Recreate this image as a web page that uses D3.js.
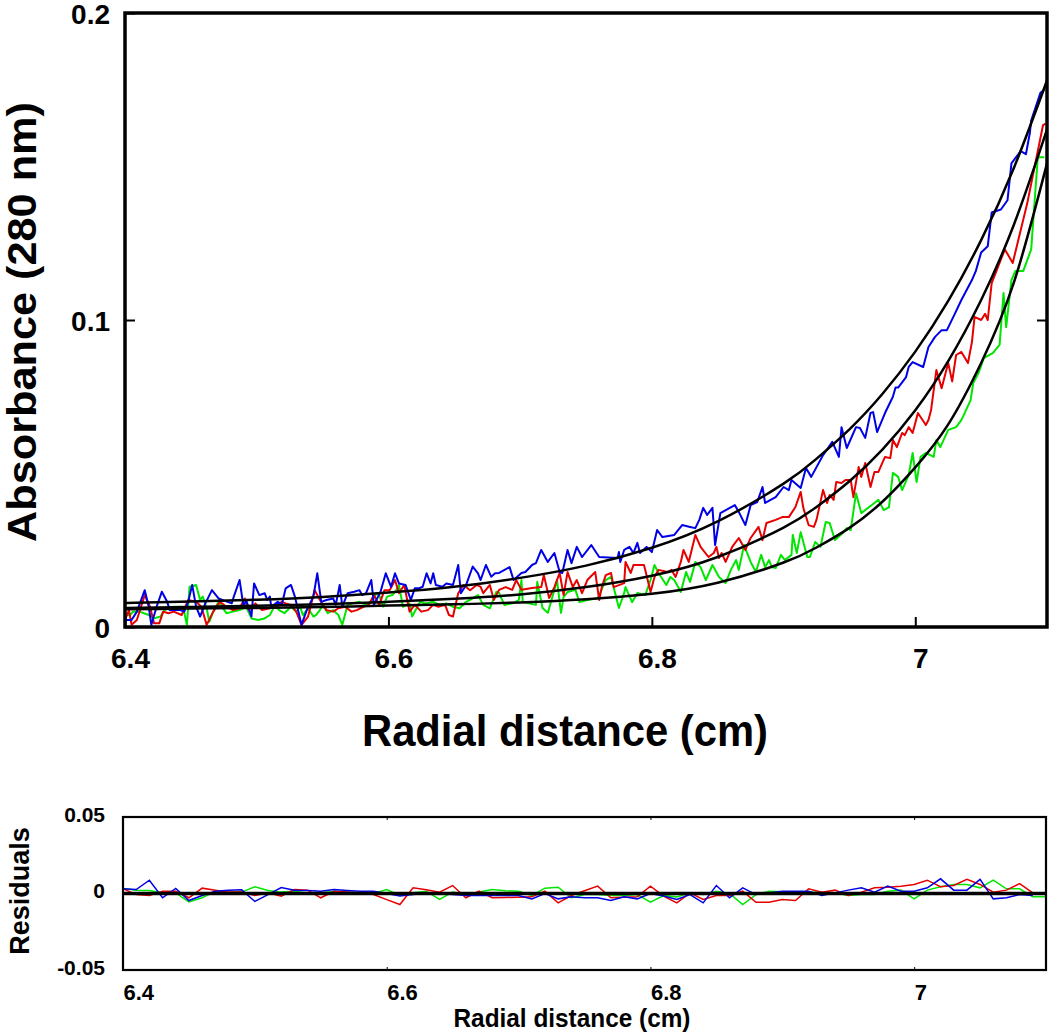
<!DOCTYPE html>
<html><head><meta charset="utf-8">
<script src="https://cdn.jsdelivr.net/npm/d3@7"></script>
<style>
body{margin:0;background:#fff}
svg{display:block}
text{font-family:"Liberation Sans",Arial,Helvetica,sans-serif;font-weight:bold;fill:#000}
</style>
</head><body>
<svg id="chart" width="1050" height="1034"></svg>
<script>
// ---------- DATA ----------
const xTicks = [6.4, 6.6, 6.8, 7.0];
const xTickLabels = ["6.4", "6.6", "6.8", "7"];
const yTicks = [0, 0.1, 0.2];
const yTickLabels = ["0", "0.1", "0.2"];
const resYTicks = [-0.05, 0, 0.05];
const resYTickLabels = ["-0.05", "0", "0.05"];

const blueData = [[6.400,0.0023],[6.405,0.0023],[6.409,0.0050],[6.415,0.0120],[6.418,0.0066],[6.420,0.0007],[6.424,0.0066],[6.428,0.0115],[6.432,0.0082],[6.434,0.0055],[6.442,0.0055],[6.445,0.0050],[6.448,0.0082],[6.451,0.0137],[6.454,0.0066],[6.457,0.0034],[6.461,0.0077],[6.466,0.0120],[6.471,0.0093],[6.474,0.0088],[6.478,0.0082],[6.481,0.0077],[6.483,0.0104],[6.487,0.0153],[6.490,0.0066],[6.492,0.0088],[6.496,0.0034],[6.498,0.0142],[6.502,0.0104],[6.506,0.0110],[6.508,0.0088],[6.510,0.0099],[6.511,0.0066],[6.516,0.0082],[6.519,0.0072],[6.522,0.0126],[6.526,0.0137],[6.529,0.0099],[6.534,0.0007],[6.538,0.0055],[6.543,0.0099],[6.546,0.0175],[6.549,0.0082],[6.553,0.0088],[6.558,0.0093],[6.560,0.0072],[6.563,0.0137],[6.565,0.0066],[6.569,0.0110],[6.574,0.0115],[6.578,0.0120],[6.580,0.0104],[6.583,0.0110],[6.587,0.0153],[6.589,0.0072],[6.594,0.0115],[6.598,0.0175],[6.602,0.0131],[6.605,0.0175],[6.608,0.0142],[6.613,0.0137],[6.617,0.0088],[6.620,0.0126],[6.623,0.0126],[6.626,0.0131],[6.629,0.0175],[6.632,0.0142],[6.634,0.0175],[6.636,0.0137],[6.641,0.0131],[6.644,0.0142],[6.649,0.0137],[6.653,0.0202],[6.655,0.0110],[6.659,0.0137],[6.664,0.0197],[6.668,0.0175],[6.670,0.0153],[6.674,0.0202],[6.678,0.0164],[6.681,0.0175],[6.684,0.0176],[6.692,0.0195],[6.695,0.0153],[6.701,0.0176],[6.704,0.0179],[6.709,0.0202],[6.712,0.0208],[6.716,0.0251],[6.721,0.0212],[6.726,0.0241],[6.730,0.0179],[6.732,0.0176],[6.736,0.0251],[6.739,0.0208],[6.743,0.0261],[6.747,0.0228],[6.754,0.0267],[6.760,0.0228],[6.774,0.0225],[6.775,0.0244],[6.776,0.0212],[6.779,0.0251],[6.783,0.0261],[6.786,0.0241],[6.789,0.0274],[6.791,0.0241],[6.796,0.0261],[6.800,0.0244],[6.804,0.0316],[6.808,0.0293],[6.817,0.0300],[6.823,0.0332],[6.829,0.0326],[6.833,0.0322],[6.836,0.0349],[6.839,0.0388],[6.842,0.0365],[6.846,0.0388],[6.848,0.0267],[6.852,0.0371],[6.863,0.0397],[6.866,0.0375],[6.871,0.0332],[6.875,0.0397],[6.880,0.0407],[6.884,0.0456],[6.886,0.0404],[6.894,0.0423],[6.900,0.0456],[6.904,0.0446],[6.906,0.0479],[6.913,0.0453],[6.917,0.0518],[6.921,0.0489],[6.930,0.0560],[6.937,0.0603],[6.942,0.0554],[6.944,0.0651],[6.948,0.0583],[6.955,0.0651],[6.958,0.0648],[6.962,0.0616],[6.966,0.0697],[6.968,0.0700],[6.971,0.0635],[6.977,0.0697],[6.983,0.0750],[6.985,0.0780],[6.987,0.0780],[6.993,0.0814],[6.995,0.0847],[6.998,0.0863],[7.006,0.0847],[7.010,0.0912],[7.015,0.0945],[7.020,0.0967],[7.024,0.0967],[7.030,0.1020],[7.035,0.1065],[7.043,0.1130],[7.046,0.1160],[7.050,0.1220],[7.055,0.1240],[7.058,0.1350],[7.065,0.1360],[7.070,0.1390],[7.073,0.1510],[7.080,0.1550],[7.084,0.1540],[7.087,0.1610],[7.088,0.1650],[7.095,0.1740],[7.098,0.1750]];

const redData = [[6.400,0.0023],[6.403,0.0055],[6.405,0.0007],[6.409,0.0023],[6.415,0.0104],[6.419,0.0066],[6.422,0.0012],[6.426,0.0012],[6.429,0.0050],[6.433,0.0045],[6.437,0.0050],[6.443,0.0039],[6.448,0.0088],[6.454,0.0082],[6.458,0.0066],[6.462,0.0007],[6.467,0.0050],[6.472,0.0082],[6.477,0.0066],[6.482,0.0055],[6.487,0.0061],[6.491,0.0093],[6.494,0.0055],[6.499,0.0077],[6.504,0.0055],[6.510,0.0061],[6.515,0.0066],[6.519,0.0082],[6.522,0.0077],[6.526,0.0072],[6.530,0.0050],[6.534,0.0007],[6.539,0.0034],[6.544,0.0120],[6.548,0.0088],[6.553,0.0055],[6.558,0.0050],[6.562,0.0061],[6.567,0.0066],[6.572,0.0050],[6.576,0.0055],[6.581,0.0066],[6.585,0.0072],[6.589,0.0104],[6.593,0.0072],[6.597,0.0120],[6.601,0.0120],[6.605,0.0153],[6.608,0.0110],[6.612,0.0137],[6.616,0.0050],[6.620,0.0072],[6.625,0.0050],[6.630,0.0055],[6.634,0.0072],[6.638,0.0066],[6.643,0.0072],[6.646,0.0039],[6.649,0.0034],[6.653,0.0110],[6.657,0.0137],[6.662,0.0120],[6.667,0.0137],[6.670,0.0131],[6.672,0.0110],[6.677,0.0137],[6.680,0.0088],[6.684,0.0121],[6.689,0.0130],[6.694,0.0121],[6.697,0.0153],[6.701,0.0121],[6.709,0.0127],[6.716,0.0130],[6.718,0.0169],[6.722,0.0094],[6.726,0.0130],[6.730,0.0176],[6.733,0.0104],[6.736,0.0179],[6.740,0.0130],[6.743,0.0153],[6.747,0.0110],[6.751,0.0153],[6.757,0.0179],[6.760,0.0088],[6.762,0.0130],[6.765,0.0169],[6.769,0.0176],[6.771,0.0130],[6.779,0.0143],[6.780,0.0212],[6.784,0.0176],[6.786,0.0202],[6.794,0.0202],[6.795,0.0186],[6.799,0.0114],[6.802,0.0163],[6.805,0.0186],[6.812,0.0179],[6.815,0.0186],[6.818,0.0163],[6.822,0.0212],[6.824,0.0251],[6.828,0.0212],[6.833,0.0300],[6.837,0.0261],[6.843,0.0228],[6.847,0.0241],[6.849,0.0261],[6.851,0.0225],[6.853,0.0241],[6.856,0.0212],[6.861,0.0261],[6.866,0.0290],[6.871,0.0251],[6.875,0.0290],[6.881,0.0326],[6.884,0.0283],[6.887,0.0339],[6.894,0.0349],[6.899,0.0358],[6.904,0.0358],[6.909,0.0391],[6.913,0.0440],[6.915,0.0388],[6.919,0.0332],[6.923,0.0326],[6.925,0.0349],[6.930,0.0446],[6.933,0.0404],[6.935,0.0430],[6.938,0.0414],[6.940,0.0472],[6.944,0.0469],[6.947,0.0479],[6.951,0.0479],[6.953,0.0423],[6.957,0.0521],[6.959,0.0489],[6.962,0.0534],[6.966,0.0456],[6.969,0.0505],[6.972,0.0505],[6.977,0.0554],[6.981,0.0550],[6.983,0.0609],[6.986,0.0586],[6.990,0.0632],[6.992,0.0625],[6.995,0.0651],[6.998,0.0632],[7.002,0.0697],[7.008,0.0658],[7.010,0.0674],[7.012,0.0707],[7.016,0.0837],[7.020,0.0778],[7.023,0.0827],[7.025,0.0860],[7.028,0.0800],[7.031,0.0886],[7.035,0.0896],[7.040,0.0860],[7.043,0.0928],[7.045,0.1010],[7.050,0.1000],[7.053,0.1020],[7.055,0.1000],[7.058,0.1120],[7.068,0.1230],[7.074,0.1186],[7.085,0.1380],[7.097,0.1635],[7.099,0.1640]];

const greenData = [[6.400,0.0039],[6.404,0.0039],[6.406,0.0050],[6.411,0.0050],[6.418,0.0039],[6.422,0.0028],[6.427,0.0034],[6.429,0.0050],[6.432,0.0061],[6.437,0.0066],[6.444,0.0066],[6.447,0.0007],[6.449,0.0131],[6.454,0.0137],[6.457,0.0088],[6.459,0.0099],[6.462,0.0061],[6.464,0.0017],[6.467,0.0050],[6.471,0.0082],[6.477,0.0045],[6.482,0.0050],[6.487,0.0055],[6.492,0.0066],[6.496,0.0028],[6.501,0.0023],[6.506,0.0028],[6.510,0.0039],[6.514,0.0072],[6.517,0.0055],[6.521,0.0045],[6.526,0.0066],[6.530,0.0050],[6.533,0.0066],[6.535,0.0039],[6.539,0.0061],[6.543,0.0034],[6.545,0.0039],[6.548,0.0055],[6.550,0.0072],[6.554,0.0045],[6.558,0.0055],[6.562,0.0039],[6.565,0.0007],[6.569,0.0072],[6.573,0.0077],[6.578,0.0082],[6.583,0.0072],[6.587,0.0082],[6.591,0.0110],[6.593,0.0104],[6.596,0.0066],[6.599,0.0099],[6.603,0.0104],[6.606,0.0120],[6.608,0.0137],[6.611,0.0066],[6.616,0.0077],[6.618,0.0034],[6.624,0.0082],[6.628,0.0077],[6.634,0.0082],[6.639,0.0072],[6.644,0.0077],[6.649,0.0066],[6.654,0.0061],[6.659,0.0082],[6.664,0.0093],[6.668,0.0104],[6.672,0.0072],[6.677,0.0061],[6.682,0.0115],[6.684,0.0111],[6.688,0.0072],[6.695,0.0078],[6.699,0.0088],[6.701,0.0153],[6.702,0.0081],[6.712,0.0072],[6.713,0.0147],[6.717,0.0062],[6.721,0.0046],[6.726,0.0121],[6.728,0.0153],[6.731,0.0046],[6.733,0.0098],[6.736,0.0114],[6.742,0.0121],[6.745,0.0081],[6.751,0.0088],[6.759,0.0094],[6.765,0.0153],[6.769,0.0163],[6.775,0.0062],[6.779,0.0111],[6.780,0.0130],[6.785,0.0081],[6.789,0.0111],[6.795,0.0104],[6.799,0.0153],[6.802,0.0202],[6.805,0.0176],[6.811,0.0137],[6.814,0.0163],[6.817,0.0153],[6.822,0.0114],[6.826,0.0179],[6.829,0.0147],[6.833,0.0212],[6.837,0.0195],[6.841,0.0153],[6.846,0.0202],[6.851,0.0163],[6.856,0.0143],[6.860,0.0186],[6.864,0.0218],[6.866,0.0186],[6.870,0.0267],[6.875,0.0212],[6.879,0.0179],[6.883,0.0235],[6.886,0.0195],[6.889,0.0218],[6.891,0.0195],[6.894,0.0192],[6.898,0.0235],[6.901,0.0218],[6.906,0.0235],[6.907,0.0300],[6.910,0.0241],[6.913,0.0309],[6.918,0.0228],[6.920,0.0228],[6.924,0.0277],[6.928,0.0261],[6.932,0.0342],[6.935,0.0339],[6.939,0.0283],[6.945,0.0306],[6.948,0.0322],[6.951,0.0316],[6.955,0.0436],[6.959,0.0371],[6.962,0.0381],[6.969,0.0404],[6.972,0.0414],[6.976,0.0381],[6.980,0.0390],[6.983,0.0502],[6.987,0.0489],[6.990,0.0446],[6.995,0.0495],[6.998,0.0567],[7.001,0.0472],[7.004,0.0554],[7.008,0.0567],[7.014,0.0554],[7.016,0.0609],[7.019,0.0586],[7.025,0.0642],[7.031,0.0651],[7.035,0.0674],[7.042,0.0739],[7.044,0.0795],[7.048,0.0827],[7.052,0.0876],[7.059,0.0893],[7.064,0.0919],[7.067,0.1088],[7.069,0.0977],[7.073,0.1130],[7.076,0.1160],[7.082,0.1160],[7.088,0.1230],[7.093,0.1530],[7.098,0.1530]];

// fitted curves
const fitX = [6.40,6.45,6.50,6.55,6.60,6.65,6.70,6.75,6.80,6.85,6.90,6.925,6.95,6.975,7.00,7.025,7.05,7.075,7.10];
const fitBlue  = [0.0078,0.0083,0.0089,0.0098,0.0112,0.0131,0.0160,0.0200,0.0258,0.0344,0.0467,0.0548,0.0644,0.0759,0.0897,0.1062,0.1260,0.1497,0.1780];
const fitRed   = [0.0062,0.0065,0.0069,0.0074,0.0082,0.0092,0.0106,0.0130,0.0167,0.0228,0.0324,0.0391,0.0475,0.0578,0.0706,0.0866,0.1065,0.1312,0.1620];
const fitGreen = [0.0058,0.0060,0.0062,0.0065,0.0070,0.0074,0.0080,0.0090,0.0108,0.0144,0.0210,0.0259,0.0323,0.0408,0.0520,0.0660,0.0860,0.1124,0.1510];

// residuals
const resX = [6.40,6.41,6.42,6.43,6.44,6.45,6.46,6.47,6.48,6.49,6.50,6.51,6.52,6.53,6.54,6.55,6.56,6.57,6.58,6.59,6.60,6.61,6.62,6.63,6.64,6.65,6.66,6.67,6.68,6.69,6.70,6.71,6.72,6.73,6.74,6.75,6.76,6.77,6.78,6.79,6.80,6.81,6.82,6.83,6.84,6.85,6.86,6.87,6.88,6.89,6.90,6.91,6.92,6.93,6.94,6.95,6.96,6.97,6.98,6.99,7.00,7.01,7.02,7.03,7.04,7.05,7.06,7.07,7.08,7.09,7.10];
const resBlue = [0.0031,0.0026,0.0087,-0.0028,0.0033,-0.0046,-0.0013,0.0015,0.0022,0.0024,-0.0052,-0.0007,0.0039,0.0022,0.0020,0.0015,0.0026,0.0020,0.0015,0.0015,0.0000,-0.0017,-0.0007,0.0000,0.0000,-0.0007,-0.0013,-0.0013,-0.0013,-0.0013,-0.0013,-0.0035,0.0000,-0.0035,-0.0022,-0.0028,-0.0028,-0.0046,-0.0022,-0.0035,0.0000,-0.0017,-0.0039,-0.0007,-0.0061,0.0052,-0.0028,0.0037,-0.0007,0.0004,0.0015,0.0015,0.0015,-0.0013,0.0004,0.0022,0.0037,0.0009,0.0048,0.0015,0.0015,0.0037,0.0096,0.0022,0.0022,0.0092,-0.0035,-0.0028,-0.0007,-0.0013];
const resRed = [0.0031,-0.0007,-0.0013,0.0015,0.0015,-0.0028,0.0035,0.0022,0.0009,0.0009,-0.0013,0.0004,-0.0017,0.0026,0.0022,-0.0028,0.0015,0.0009,0.0004,-0.0007,-0.0040,-0.0072,0.0037,0.0024,0.0009,0.0052,-0.0028,0.0015,-0.0028,-0.0026,-0.0024,-0.0022,0.0015,-0.0061,-0.0013,0.0018,0.0048,-0.0028,-0.0025,-0.0022,0.0048,-0.0017,-0.0061,0.0004,-0.0039,-0.0013,-0.0013,0.0015,-0.0057,-0.0057,-0.0039,-0.0046,0.0031,0.0009,0.0022,-0.0013,0.0009,0.0037,0.0041,0.0048,0.0059,0.0087,0.0044,0.0052,0.0092,0.0059,0.0009,0.0022,0.0065,0.0004];
const resGreen = [0.0033,0.0022,0.0020,0.0004,0.0004,-0.0055,-0.0028,0.0015,0.0009,0.0009,0.0044,0.0020,0.0009,0.0015,0.0004,0.0004,0.0015,0.0009,0.0004,0.0000,0.0026,-0.0013,0.0005,0.0015,-0.0039,0.0009,-0.0007,0.0010,0.0026,0.0018,0.0015,-0.0013,0.0035,0.0041,-0.0028,-0.0007,-0.0007,-0.0013,-0.0013,-0.0007,-0.0057,-0.0013,-0.0022,0.0004,-0.0007,0.0015,0.0000,-0.0072,-0.0007,0.0015,0.0012,0.0010,0.0009,0.0007,0.0004,-0.0013,-0.0007,-0.0007,0.0015,0.0022,-0.0035,0.0022,0.0044,0.0059,0.0059,0.0037,0.0087,0.0031,0.0031,-0.0022,-0.0022];

const seriesColors = {blue: "#0000e6", red: "#e60000", green: "#00e600"};

// ---------- CHART ----------
const svg = d3.select("#chart");

// main panel scales
const x = d3.scaleLinear().domain([6.4, 7.1]).range([125, 1047]);
const y = d3.scaleLinear().domain([0, 0.2]).range([627, 13]);

svg.append("defs").append("clipPath").attr("id", "clipMain")
  .append("rect").attr("x", x(6.4)).attr("y", y(0.2))
  .attr("width", x(7.1) - x(6.4)).attr("height", y(0) - y(0.2));

const dataLine = d3.line().x(d => x(d[0])).y(d => y(d[1]));
const gData = svg.append("g").attr("clip-path", "url(#clipMain)");
[[greenData, seriesColors.green], [redData, seriesColors.red], [blueData, seriesColors.blue]].forEach(([d, c]) => {
  gData.append("path").datum(d).attr("d", dataLine)
    .attr("fill", "none").attr("stroke", c).attr("stroke-width", 2).attr("stroke-linejoin", "round");
});

const fitLine = d3.line().x((d, i) => x(fitX[i])).y(d => y(d)).curve(d3.curveNatural);
[fitBlue, fitRed, fitGreen].forEach(f => {
  gData.append("path").datum(f).attr("d", fitLine)
    .attr("fill", "none").attr("stroke", "#000").attr("stroke-width", 2.5);
});

// axes (ticks inside)
const gx = svg.append("g").attr("transform", `translate(0,${y(0)})`)
  .call(d3.axisBottom(x).tickValues(xTicks).tickSize(-10).tickFormat((d, i) => xTickLabels[i]));
gx.attr("font-size", null).attr("font-family", null);
gx.select(".domain").remove();
gx.selectAll("line").attr("stroke-width", 2);
gx.selectAll("text").attr("y", 41).attr("dy", null).attr("dx", 5).style("font-size", "28px");

const gy = svg.append("g").attr("transform", `translate(${x(6.4)},0)`)
  .call(d3.axisLeft(y).tickValues(yTicks).tickSize(-10).tickFormat((d, i) => yTickLabels[i]));
gy.attr("font-size", null).attr("font-family", null);
gy.select(".domain").remove();
gy.selectAll("line").attr("stroke-width", 2);
gy.selectAll("text").attr("x", -15).attr("dy", "0.36em").style("font-size", "28px");

const gyr = svg.append("g").attr("transform", `translate(${x(7.1)},0)`)
  .call(d3.axisRight(y).tickValues([0.1]).tickSize(-10).tickFormat(""));
gyr.select(".domain").remove();
gyr.selectAll("line").attr("stroke-width", 2);

// frame
svg.append("rect").attr("x", x(6.4)).attr("y", y(0.2))
  .attr("width", x(7.1) - x(6.4)).attr("height", y(0) - y(0.2))
  .attr("fill", "none").attr("stroke", "#000").attr("stroke-width", 3.5);

// titles
svg.append("text").attr("x", 565).attr("y", 746)
  .attr("text-anchor", "middle").style("font-size", "44px")
  .attr("textLength", 406).attr("lengthAdjust", "spacingAndGlyphs")
  .text("Radial distance (cm)");
svg.append("text").attr("transform", "translate(36,322) rotate(-90)")
  .attr("text-anchor", "middle").style("font-size", "40px")
  .attr("textLength", 440).attr("lengthAdjust", "spacingAndGlyphs")
  .text("Absorbance (280 nm)");

// ---------- RESIDUALS PANEL ----------
const xr = d3.scaleLinear().domain([6.4, 7.1]).range([123, 1046]);
const yr = d3.scaleLinear().domain([-0.05, 0.05]).range([970, 817]);

svg.append("defs").append("clipPath").attr("id", "clipRes")
  .append("rect").attr("x", xr(6.4)).attr("y", yr(0.05))
  .attr("width", xr(7.1) - xr(6.4)).attr("height", yr(-0.05) - yr(0.05));

const resLine = d3.line().x((d, i) => xr(resX[i])).y(d => yr(d));
const gRes = svg.append("g").attr("clip-path", "url(#clipRes)");
[[resGreen, seriesColors.green], [resRed, seriesColors.red], [resBlue, seriesColors.blue]].forEach(([d, c]) => {
  gRes.append("path").datum(d).attr("d", resLine)
    .attr("fill", "none").attr("stroke", c).attr("stroke-width", 1.5);
});
gRes.append("line").attr("x1", xr(6.4)).attr("x2", xr(7.1)).attr("y1", yr(0)).attr("y2", yr(0))
  .attr("stroke", "#000").attr("stroke-width", 3.5);

const gxr = svg.append("g").attr("transform", `translate(0,${yr(-0.05)})`)
  .call(d3.axisBottom(xr).tickValues(xTicks).tickSize(-3).tickFormat((d, i) => xTickLabels[i]));
gxr.attr("font-size", null).attr("font-family", null);
gxr.select(".domain").remove();
gxr.selectAll("text").attr("y", 30).attr("dy", null).attr("text-anchor", "start").style("font-size", "22px");

const gxt = svg.append("g").attr("transform", `translate(0,${yr(0.05)})`)
  .call(d3.axisTop(xr).tickValues(xTicks).tickSize(-3).tickFormat(""));
gxt.select(".domain").remove();

const gyres = svg.append("g").attr("transform", `translate(${xr(6.4)},0)`)
  .call(d3.axisLeft(yr).tickValues(resYTicks).tickSize(0).tickFormat((d, i) => resYTickLabels[i]));
gyres.attr("font-size", null).attr("font-family", null);
gyres.select(".domain").remove();
gyres.selectAll("text").attr("x", -18).attr("dy", "0.2em").style("font-size", "21px");

svg.append("rect").attr("x", xr(6.4)).attr("y", yr(0.05))
  .attr("width", xr(7.1) - xr(6.4)).attr("height", yr(-0.05) - yr(0.05))
  .attr("fill", "none").attr("stroke", "#000").attr("stroke-width", 2.2);

svg.append("text").attr("x", 572).attr("y", 1027)
  .attr("text-anchor", "middle").style("font-size", "25px")
  .attr("textLength", 237).attr("lengthAdjust", "spacingAndGlyphs")
  .text("Radial distance (cm)");
svg.append("text").attr("transform", "translate(29,891) rotate(-90)")
  .attr("text-anchor", "middle").style("font-size", "27px")
  .text("Residuals");
</script>
</body></html>
